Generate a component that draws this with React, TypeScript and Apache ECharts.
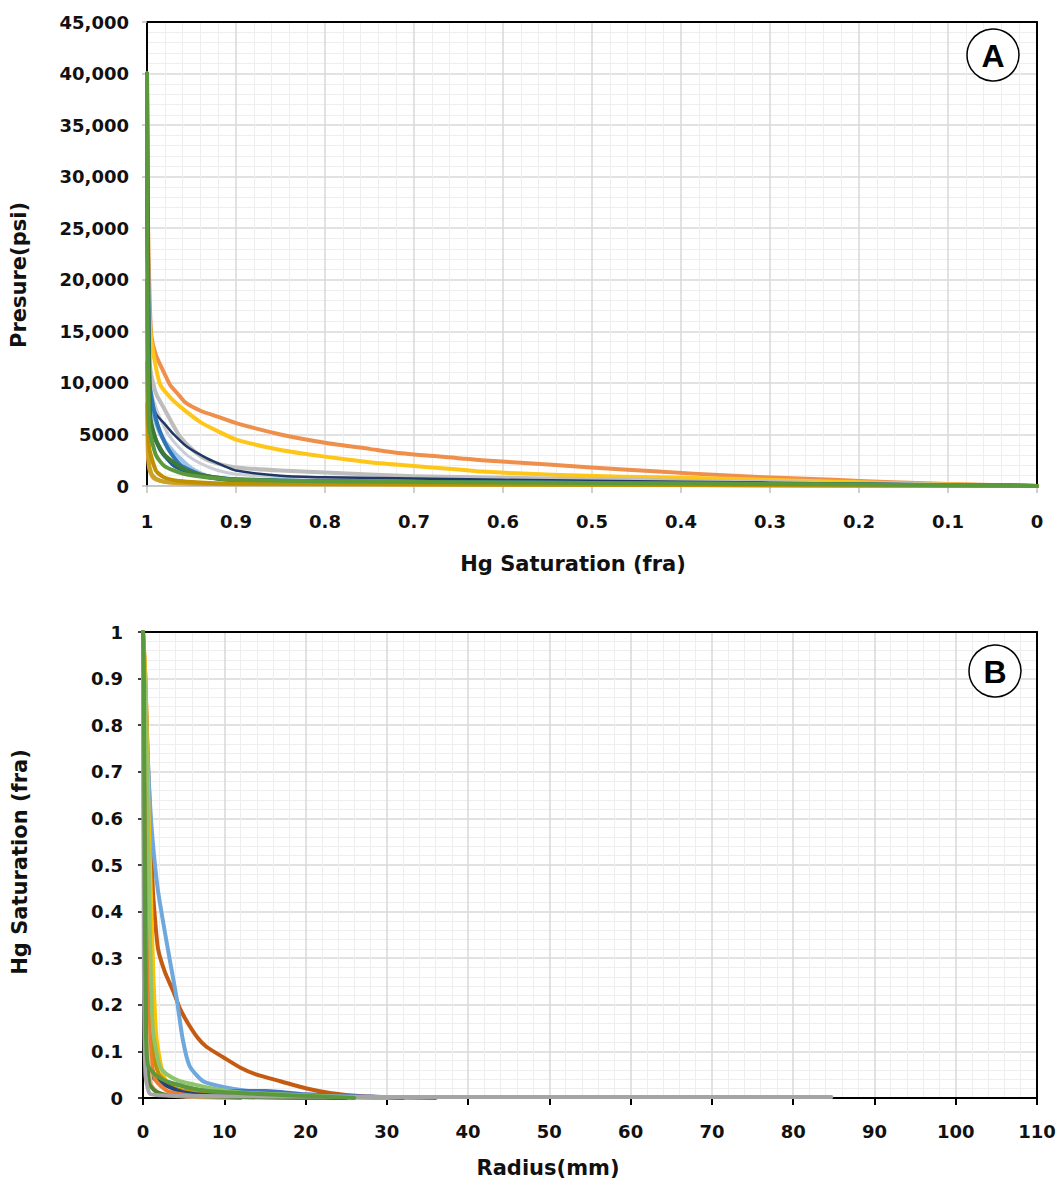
import React, { useEffect, useRef } from "react";
import * as echarts from "echarts";

// ---------- Panel A: Pressure (psi) vs Hg saturation (fra) ----------
const pressureTicks = [0, 5000, 10000, 15000, 20000, 25000, 30000, 35000, 40000, 45000];
const satTicks = [1, 0.9, 0.8, 0.7, 0.6, 0.5, 0.4, 0.3, 0.2, 0.1, 0];

const aOrange = [[1, 40000], [0.999, 26000], [0.997, 18000], [0.995, 14500], [0.99, 12700], [0.982, 11200], [0.974, 9800], [0.965, 8900], [0.957, 8100], [0.94, 7300], [0.92, 6700], [0.9, 6100], [0.85, 5000], [0.8, 4200], [0.75, 3600], [0.717, 3200], [0.65, 2700], [0.624, 2500], [0.545, 2050], [0.465, 1600], [0.386, 1200], [0.307, 850], [0.228, 600], [0.17, 380], [0.1, 200], [0.05, 100], [0, 0]];
const aYellow = [[1, 40000], [0.999, 22000], [0.997, 16000], [0.995, 14000], [0.99, 11500], [0.985, 9800], [0.974, 8600], [0.96, 7500], [0.94, 6200], [0.92, 5300], [0.9, 4500], [0.85, 3500], [0.8, 2850], [0.75, 2300], [0.717, 2050], [0.65, 1600], [0.624, 1400], [0.545, 1080], [0.465, 900], [0.386, 780], [0.307, 600], [0.228, 420], [0.17, 300], [0.1, 160], [0, 0]];
const aGray = [[1, 38000], [0.998, 14000], [0.996, 11200], [0.99, 9000], [0.98, 7400], [0.97, 5800], [0.963, 4800], [0.95, 3600], [0.933, 2550], [0.915, 2050], [0.9, 1800], [0.85, 1500], [0.8, 1300], [0.7, 950], [0.6, 800], [0.5, 650], [0.4, 500], [0.3, 380], [0.2, 250], [0.1, 120], [0, 0]];
const aSilver = [[1, 34000], [0.997, 10000], [0.99, 7600], [0.98, 5600], [0.97, 4300], [0.955, 3000], [0.94, 2200], [0.92, 1500], [0.9, 1150], [0.85, 900], [0.7, 700], [0.5, 520], [0.3, 330], [0.1, 110], [0, 0]];
const aNavy = [[1, 30000], [0.997, 9000], [0.99, 7000], [0.98, 6000], [0.971, 5100], [0.955, 3800], [0.933, 2700], [0.915, 2000], [0.9, 1500], [0.85, 1000], [0.8, 850], [0.6, 600], [0.4, 420], [0.2, 230], [0, 0]];
const aBlue = [[1, 40000], [0.997, 10000], [0.99, 6500], [0.98, 4200], [0.97, 2800], [0.96, 1900], [0.94, 1100], [0.92, 800], [0.9, 650], [0.8, 450], [0.6, 330], [0.4, 250], [0.2, 150], [0, 0]];
const aLightBlue = [[1, 35000], [0.996, 8000], [0.985, 5000], [0.97, 3300], [0.95, 1700], [0.93, 900], [0.9, 600], [0.8, 420], [0.5, 280], [0.2, 130], [0, 0]];
const aDeepBlue = [[1, 30000], [0.996, 6000], [0.985, 3500], [0.97, 2000], [0.95, 1200], [0.92, 700], [0.9, 550], [0.7, 380], [0.4, 260], [0, 0]];
const aDarkGreen = [[1, 40000], [0.997, 7000], [0.99, 4500], [0.98, 3000], [0.96, 1700], [0.94, 1100], [0.92, 800], [0.9, 600], [0.8, 400], [0.5, 250], [0.2, 120], [0, 0]];
const aGold = [[1, 20000], [0.998, 4000], [0.99, 1500], [0.98, 800], [0.96, 450], [0.93, 300], [0.9, 250], [0.6, 150], [0.3, 80], [0, 0]];
const aTan = [[1, 12000], [0.998, 2500], [0.995, 1200], [0.99, 700], [0.98, 400], [0.95, 250], [0.9, 180], [0.5, 100], [0, 0]];
const aAmber = [[1, 8000], [0.999, 3000], [0.997, 1500], [0.993, 800], [0.985, 500], [0.97, 300], [0.9, 200], [0.5, 120], [0, 0]];
const aGreen = [[1, 40000], [0.998, 6000], [0.99, 3000], [0.98, 1900], [0.96, 1200], [0.93, 800], [0.9, 600], [0.8, 450], [0.6, 350], [0.4, 250], [0.2, 150], [0.05, 50], [0, 0]];

// ---------- Panel B: Hg saturation (fra) vs Radius (mm) ----------
const radiusTicks = [0, 10, 20, 30, 40, 50, 60, 70, 80, 90, 100, 110];
const satTicksB = [0, 0.1, 0.2, 0.3, 0.4, 0.5, 0.6, 0.7, 0.8, 0.9, 1];

const bGray = [[0, 1], [0.1, 0.3], [0.3, 0.05], [0.8, 0.01], [2, 0.006], [5, 0.005], [10, 0.004], [20, 0.003], [40, 0.002], [60, 0.002], [84.7, 0.002]];
const bRed = [[0, 1], [0.3, 0.9], [0.6, 0.72], [0.9, 0.6], [1.2, 0.45], [1.5, 0.38], [1.85, 0.32], [2.7, 0.27], [3.7, 0.23], [4.6, 0.19], [5.55, 0.16], [6.7, 0.13], [7.8, 0.11], [10, 0.086], [12, 0.065], [14, 0.05], [16.9, 0.036], [20, 0.021], [23, 0.011], [27, 0.004], [32, 0.001], [36, 0]];
const bLightBlue = [[0, 1], [0.3, 0.85], [0.8, 0.65], [1.2, 0.55], [1.8, 0.45], [2.5, 0.375], [3.3, 0.296], [4.1, 0.218], [4.9, 0.125], [5.75, 0.068], [7.4, 0.036], [10, 0.023], [13, 0.015], [20, 0.006], [28, 0.002], [32, 0]];
const bBlue = [[0, 1], [0.3, 0.6], [0.6, 0.2], [1, 0.06], [2, 0.04], [4, 0.03], [6, 0.02], [8, 0.016], [10, 0.015], [15, 0.015], [20, 0.008], [28, 0.003], [32, 0]];
const bYellow = [[0, 1], [0.3, 0.9], [0.7, 0.6], [1.0, 0.42], [1.3, 0.25], [1.65, 0.13], [2.2, 0.07], [2.5, 0.05], [3, 0.03], [4, 0.02], [6, 0.01], [10, 0.005], [20, 0]];
const bGold = [[0, 1], [0.3, 0.7], [0.6, 0.4], [0.9, 0.2], [1.2, 0.1], [2, 0.05], [4, 0.02], [8, 0.01], [20, 0.003], [30, 0]];
const bLightGreen = [[0, 1], [0.4, 0.8], [0.8, 0.4], [1.2, 0.15], [2.05, 0.068], [3, 0.05], [4.5, 0.036], [6, 0.03], [8.7, 0.02], [12, 0.012], [20, 0.006], [26, 0.002], [30, 0]];
const bNavy = [[0, 1], [0.2, 0.3], [0.5, 0.1], [1.2, 0.045], [2.5, 0.03], [3.7, 0.02], [5, 0.012], [8, 0.006], [15, 0.002], [25, 0]];
const bOrange = [[0, 1], [0.2, 0.6], [0.5, 0.25], [0.9, 0.1], [1.5, 0.04], [3, 0.015], [6, 0.005], [12, 0]];
const bSalmon = [[0, 1], [0.15, 0.5], [0.4, 0.15], [1, 0.03], [2, 0.01], [5, 0.003], [10, 0]];
const bDarkGreen = [[0, 1], [0.2, 0.5], [0.4, 0.1], [0.8, 0.03], [1.5, 0.015], [3, 0.006], [4.5, 0.005], [8, 0.003], [15, 0.001], [22, 0]];
const bGreen = [[0, 1], [0.1, 0.9], [0.2, 0.5], [0.35, 0.15], [0.6, 0.07], [1.5, 0.05], [3, 0.035], [5, 0.025], [8, 0.015], [15, 0.008], [22, 0.003], [26, 0]];

const FONT = "DejaVu Sans";

function lineSeries(name: string, data: number[][], color: string, grid: number, width = 4) {
  return {
    name,
    type: "line",
    xAxisIndex: grid === 0 ? 0 : 2,
    yAxisIndex: grid === 0 ? 0 : 2,
    data,
    showSymbol: false,
    symbol: "none",
    smooth: 0.2,
    lineStyle: { color, width, cap: "round", join: "round" },
    emphasis: { disabled: true },
  };
}

const fmtA = (v: number) => (v === 5000 || v === 0 ? String(v) : v.toLocaleString("en-US"));
const fmtSat = (v: number) => String(Number(v.toFixed(1)));

export default function App() {
  const ref = useRef<HTMLDivElement>(null);
  useEffect(() => {
    if (!ref.current) return;
    const chart = echarts.init(ref.current, undefined, { renderer: "svg" });
    const labelStyle = { fontFamily: FONT, fontWeight: "bold" as const, fontSize: 18, color: "#111" };
    const major = { show: true, lineStyle: { color: "#D9D9D9", width: 1.5 } };
    const minor = { show: true, lineStyle: { color: "#EEEEEE", width: 1 } };
    const border = (gridIndex: number, position: string) => ({
      type: "value",
      gridIndex,
      position,
      min: 0,
      max: 1,
      axisLine: { show: true, onZero: false, lineStyle: { color: "#000", width: 2 } },
      axisTick: { show: false },
      axisLabel: { show: false },
      splitLine: { show: false },
    });
    chart.setOption({
      animation: false,
      backgroundColor: "#fff",
      grid: [
        { left: 147, top: 22, width: 890, height: 464 },
        { left: 143, top: 632, width: 894, height: 466 },
      ],
      xAxis: [
        {
          type: "value",
          gridIndex: 0,
          min: satTicks[satTicks.length - 1],
          max: satTicks[0],
          interval: 0.1,
          inverse: true,
          position: "bottom",
          axisLine: { show: true, onZero: false, lineStyle: { color: "#BFBFBF", width: 1.5 } },
          axisTick: { show: true, length: 7, lineStyle: { color: "#BFBFBF", width: 1.5 } },
          axisLabel: { ...labelStyle, margin: 26, formatter: fmtSat },
          splitLine: major,
          minorTick: { show: false, splitNumber: 5 },
          minorSplitLine: minor,
        },
        border(0, "top"),
        {
          type: "value",
          gridIndex: 1,
          min: radiusTicks[0],
          max: radiusTicks[radiusTicks.length - 1],
          interval: 10,
          position: "bottom",
          axisLine: { show: true, onZero: false, lineStyle: { color: "#000", width: 2 } },
          axisTick: { show: true, length: 7, lineStyle: { color: "#000", width: 2 } },
          axisLabel: { ...labelStyle, margin: 24 },
          splitLine: major,
          minorTick: { show: false, splitNumber: 5 },
          minorSplitLine: minor,
        },
        border(1, "top"),
      ],
      yAxis: [
        {
          type: "value",
          gridIndex: 0,
          min: pressureTicks[0],
          max: pressureTicks[pressureTicks.length - 1],
          interval: 5000,
          position: "left",
          axisLine: { show: true, onZero: false, lineStyle: { color: "#000", width: 2 } },
          axisTick: { show: true, length: 5, lineStyle: { color: "#BFBFBF", width: 1.5 } },
          axisLabel: { ...labelStyle, margin: 18, formatter: fmtA },
          splitLine: major,
          minorTick: { show: false, splitNumber: 5 },
          minorSplitLine: minor,
        },
        border(0, "right"),
        {
          type: "value",
          gridIndex: 1,
          min: satTicksB[0],
          max: satTicksB[satTicksB.length - 1],
          interval: 0.1,
          position: "left",
          axisLine: { show: true, onZero: false, lineStyle: { color: "#000", width: 2 } },
          axisTick: { show: true, length: 5, lineStyle: { color: "#000", width: 1.5 } },
          axisLabel: { ...labelStyle, margin: 20, formatter: fmtSat },
          splitLine: major,
          minorTick: { show: false, splitNumber: 5 },
          minorSplitLine: minor,
        },
        border(1, "right"),
      ],
      series: [
        lineSeries("A-orange", aOrange, "#EF8F4C", 0),
        lineSeries("A-yellow", aYellow, "#FFC61A", 0),
        lineSeries("A-gray", aGray, "#BDBDBD", 0),
        lineSeries("A-silver", aSilver, "#C9CDD6", 0, 3),
        lineSeries("A-navy", aNavy, "#1F3864", 0, 2.5),
        lineSeries("A-lightblue", aLightBlue, "#9DC3E6", 0),
        lineSeries("A-blue", aBlue, "#2E75B6", 0),
        lineSeries("A-deepblue", aDeepBlue, "#1F5C99", 0),
        lineSeries("A-darkgreen", aDarkGreen, "#3E7A34", 0),
        lineSeries("A-amber", aAmber, "#E2A04A", 0),
        lineSeries("A-tan", aTan, "#C9A227", 0),
        lineSeries("A-gold", aGold, "#BF9000", 0),
        lineSeries("A-green", aGreen, "#5B9A3C", 0),

        lineSeries("B-red", bRed, "#C55A11", 1),
        lineSeries("B-lightblue", bLightBlue, "#6FA8DC", 1),
        lineSeries("B-blue", bBlue, "#4472C4", 1),
        lineSeries("B-yellow", bYellow, "#FFC000", 1),
        lineSeries("B-gold", bGold, "#BF9000", 1),
        lineSeries("B-lightgreen", bLightGreen, "#8FC46A", 1),
        lineSeries("B-navy", bNavy, "#264478", 1),
        lineSeries("B-orange", bOrange, "#ED7D31", 1),
        lineSeries("B-salmon", bSalmon, "#F4B183", 1),
        lineSeries("B-darkgreen", bDarkGreen, "#548235", 1),
        lineSeries("B-gray", bGray, "#A5A5A5", 1),
        lineSeries("B-green", bGreen, "#5B9A3C", 1),
      ],
      graphic: [
        { type: "circle", shape: { cx: 993, cy: 55, r: 26 }, style: { fill: "#fff", stroke: "#000", lineWidth: 1.5 }, z: 100 },
        { type: "text", x: 993, y: 56, style: { text: "A", font: "bold 32px 'Liberation Sans'", fill: "#000", align: "center", verticalAlign: "middle" }, z: 101 },
        { type: "circle", shape: { cx: 995, cy: 671, r: 26 }, style: { fill: "#fff", stroke: "#000", lineWidth: 1.5 }, z: 100 },
        { type: "text", x: 995, y: 672, style: { text: "B", font: "bold 32px 'Liberation Sans'", fill: "#000", align: "center", verticalAlign: "middle" }, z: 101 },
        { type: "text", x: 573, y: 564, style: { text: "Hg Saturation (fra)", font: `bold 21px '${FONT}'`, fill: "#111", align: "center", verticalAlign: "middle" } },
        { type: "text", x: 19, y: 275, rotation: Math.PI / 2, style: { text: "Presure(psi)", font: `bold 21px '${FONT}'`, fill: "#111", align: "center", verticalAlign: "middle" } },
        { type: "text", x: 548, y: 1168, style: { text: "Radius(mm)", font: `bold 21px '${FONT}'`, fill: "#111", align: "center", verticalAlign: "middle" } },
        { type: "text", x: 20, y: 862, rotation: Math.PI / 2, style: { text: "Hg Saturation (fra)", font: `bold 21px '${FONT}'`, fill: "#111", align: "center", verticalAlign: "middle" } },
      ],
    });
    return () => chart.dispose();
  }, []);
  return <div ref={ref} style={{ position: "fixed", left: 0, top: 0, width: 1062, height: 1186, background: "#fff" }} />;
}
